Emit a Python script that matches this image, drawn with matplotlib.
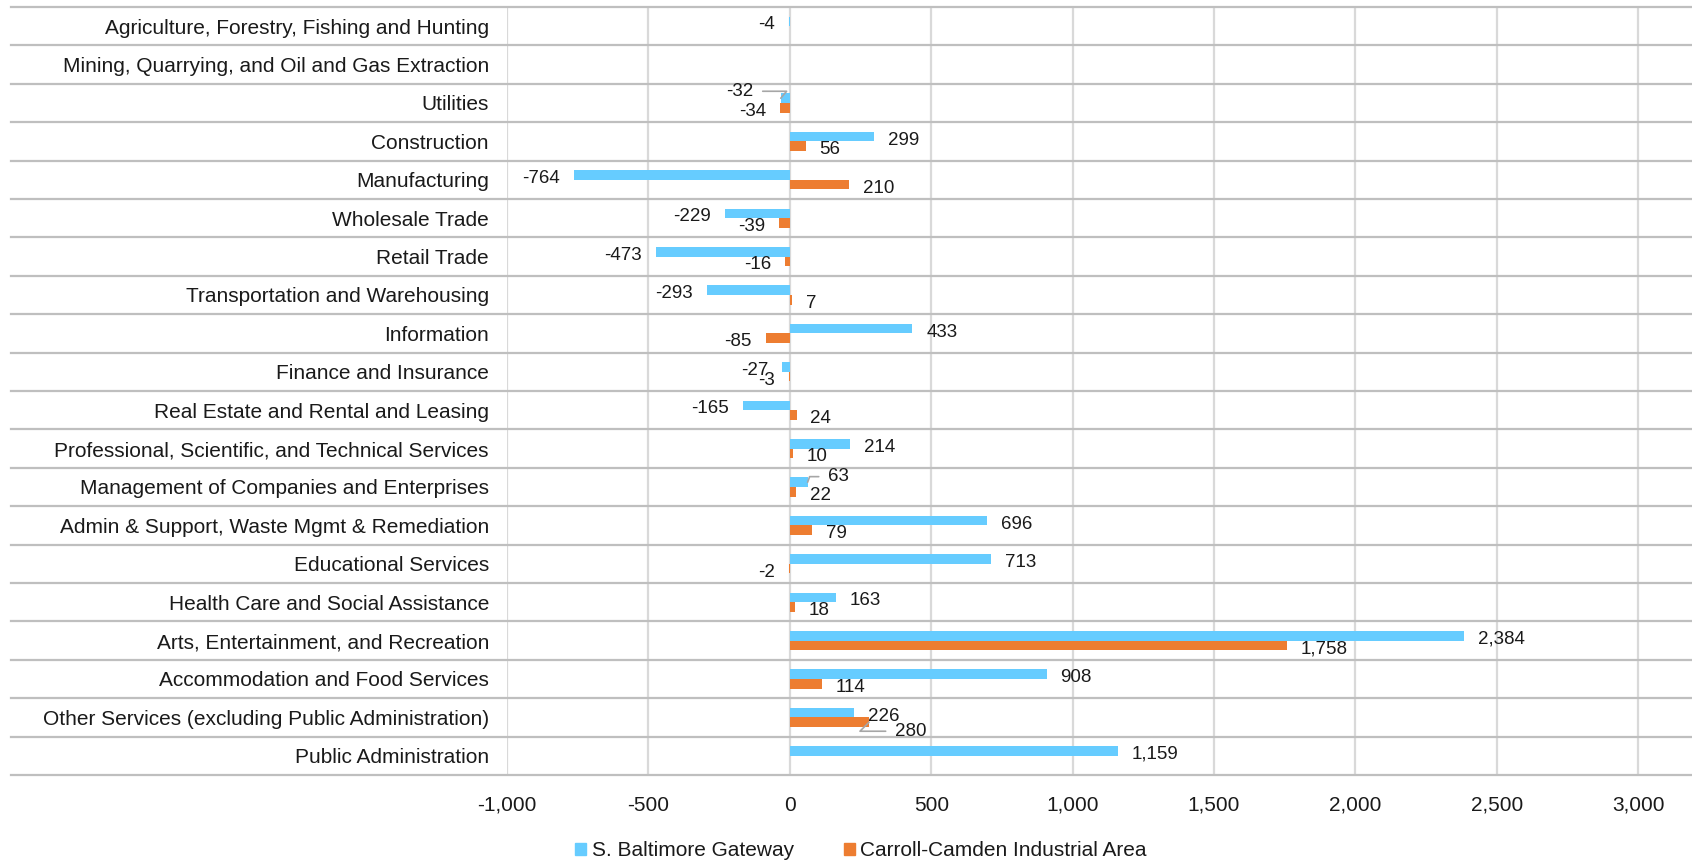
import numpy as np
import matplotlib
matplotlib.use("Agg")
import matplotlib.pyplot as plt
from matplotlib.patches import Patch
from matplotlib.ticker import FuncFormatter
from matplotlib.transforms import blended_transform_factory

plt.rcParams['font.family'] = ['Liberation Sans', 'DejaVu Sans']

industries = [
    "Agriculture, Forestry, Fishing and Hunting",
    "Mining, Quarrying, and Oil and Gas Extraction",
    "Utilities",
    "Construction",
    "Manufacturing",
    "Wholesale Trade",
    "Retail Trade",
    "Transportation and Warehousing",
    "Information",
    "Finance and Insurance",
    "Real Estate and Rental and Leasing",
    "Professional, Scientific, and Technical Services",
    "Management of Companies and Enterprises",
    "Admin & Support, Waste Mgmt & Remediation",
    "Educational Services",
    "Health Care and Social Assistance",
    "Arts, Entertainment, and Recreation",
    "Accommodation and Food Services",
    "Other Services (excluding Public Administration)",
    "Public Administration",
]
nan = np.nan
gateway = [-4, nan, -32, 299, -764, -229, -473, -293, 433, -27,
           -165, 214, 63, 696, 713, 163, 2384, 908, 226, 1159]
carroll = [nan, nan, -34, 56, 210, -39, -16, 7, -85, -3,
           24, 10, 22, 79, -2, 18, 1758, 114, 280, nan]

series_names = ["S. Baltimore Gateway", "Carroll-Camden Industrial Area"]
colors = ["#66CCFF", "#ED7D31"]

W, H = 1692, 860
fig = plt.figure(figsize=(W / 100, H / 100), dpi=100)
left_px, top_px, bottom_px = 507, 7, 775
ax = fig.add_axes([left_px / W, 1 - bottom_px / H, (W - left_px) / W, (bottom_px - top_px) / H])

y = np.arange(len(industries))
bh = 0.25
ax.barh(y - bh / 2, gateway, height=bh, color=colors[0], zorder=2)
ax.barh(y + bh / 2, carroll, height=bh, color=colors[1], zorder=2)

ax.set_xlim(-1000, 3190)
ax.set_ylim(len(industries) - 0.5, -0.5)
ax.set_xticks(np.arange(-1000, 3001, 500))
ax.xaxis.set_major_formatter(FuncFormatter(lambda v, p: f"{v:,.0f}"))
ax.grid(axis='x', color='#D9D9D9', lw=1.6, zorder=0)
ax.set_axisbelow(True)
for s in ax.spines.values():
    s.set_visible(False)

ax.set_yticks(y)
ax.set_yticklabels(industries, fontsize=15, color='#1a1a1a')
ax.tick_params(axis='y', length=0, pad=13)
ax.tick_params(axis='x', length=0, pad=15, labelsize=15, labelcolor='#1a1a1a')

# row separators run under the category labels too
trans = blended_transform_factory(ax.transAxes, ax.transData)
sep_left = (11 - left_px) / (W - left_px)
for k in range(len(industries) + 1):
    ax.plot([sep_left, 1], [k - 0.5, k - 0.5], transform=trans,
            color='#BFBFBF', lw=1.6, clip_on=False, zorder=1)

# labels that were pulled off their bar, with leader lines
moved = {
    (0, 2): (-20, 5, (1, 0.5), 50),
    (0, 12): (15, 4, (0, 0.5), 70),
    (1, 18): (19, -6.5, (0, 0.5), 45),
}

for si, vals in enumerate([gateway, carroll]):
    off = -bh / 2 if si == 0 else bh / 2
    for i, v in enumerate(vals):
        if np.isnan(v):
            continue
        txt = f"{v:,.0f}"
        if (si, i) in moved:
            dx, dy, rel, angb = moved[(si, i)]
            ax.annotate(txt, (v, i + off), xytext=(dx, dy), textcoords='offset points',
                        ha='right' if dx < 0 else 'left', va='center', fontsize=13.5,
                        color='#1a1a1a',
                        arrowprops=dict(arrowstyle='-', color='#A6A6A6', lw=1.2,
                                        relpos=rel, shrinkA=5, shrinkB=0,
                                        connectionstyle=f"angle,angleA=0,angleB={angb},rad=0"))
        else:
            dx = 10 if v >= 0 else -10
            ax.annotate(txt, (v, i + off), xytext=(dx, -2.5), textcoords='offset points',
                        ha='left' if v >= 0 else 'right', va='center', fontsize=13.5,
                        color='#1a1a1a')

handles = [Patch(color=c, label=n) for c, n in zip(colors, series_names)]
fig.legend(handles=handles, loc='center', bbox_to_anchor=(861 / W, 1 - 851 / H),
           ncol=2, frameon=False, fontsize=15, handlelength=0.55, handleheight=0.55,
           handletextpad=0.25, columnspacing=2.4, labelcolor='#1a1a1a')

fig.savefig("out.png", dpi=100)
